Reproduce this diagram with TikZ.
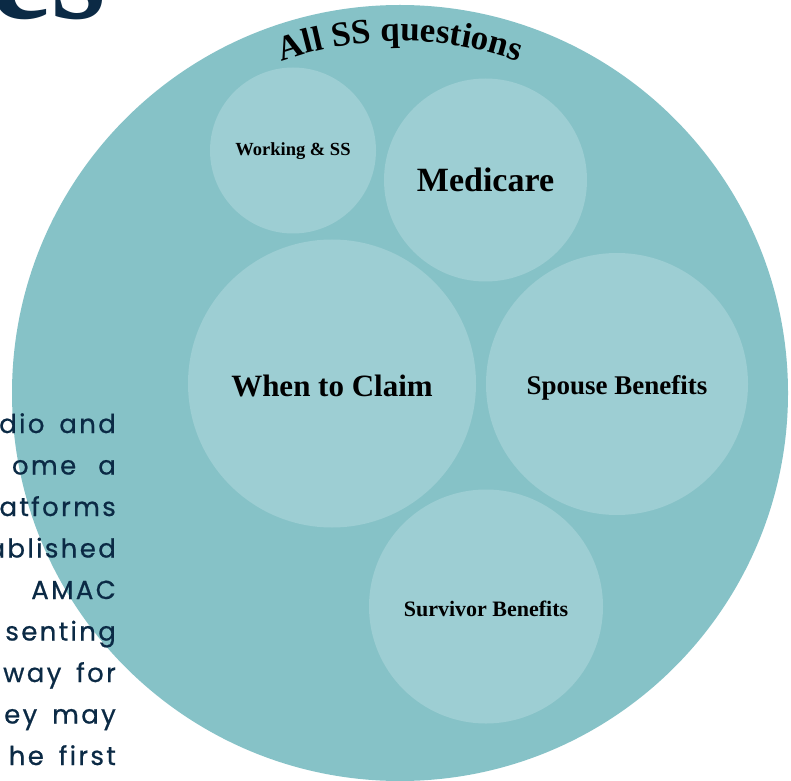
\documentclass[tikz,border=0pt]{standalone}
\usepackage{fontspec}
\setmainfont{Liberation Serif}
\newfontfamily\bodyfont[LetterSpace=9,WordSpace=1.6,FakeBold=0.6]{Poppins}
\usetikzlibrary{decorations.text}
\definecolor{outerteal}{HTML}{86C2C7}
\definecolor{innerteal}{HTML}{9DCED3}
\definecolor{navy}{HTML}{0B2A45}
\tikzset{
  bubble/.style={circle, fill=innerteal, draw=none, inner sep=0pt, outer sep=0pt},
  bigbubble/.style={circle, fill=outerteal, draw=none, inner sep=0pt, outer sep=0pt},
  lbl/.style={anchor=base, inner sep=0pt, text=black, font=\bfseries},
  bodyline/.style={anchor=base east, inner sep=0pt, text=navy, font=\bodyfont\fontsize{26}{26}\selectfont},
}
\begin{document}
\begin{tikzpicture}[x=1pt,y=1pt]
\useasboundingbox (0,0) rectangle (791,780);
\clip (0,0) rectangle (791,780);
\fill[white] (0,0) rectangle (791,780);
% heading fragment
\node[anchor=base east, inner sep=0pt, text=navy, font=\bfseries\fontsize{140}{140}\selectfont] (head) at (106,761) {es};
% main circle
\node[bigbubble, minimum size=776pt] (all) at (400,387) {};
\path[decorate, decoration={text along path, text align=center,
  text={|\bfseries\fontsize{35}{35}\selectfont|All SS questions}}]
  (all.center) ++(130:352) arc[start angle=130, end angle=50, radius=352];
% sub circles
\node[bubble, minimum size=166pt] (work) at (293,629.5) {};
\node[bubble, minimum size=203pt] (medi) at (485.5,600) {};
\node[bubble, minimum size=288pt] (when) at (332,396.5) {};
\node[bubble, minimum size=262pt] (spouse) at (617,396) {};
\node[bubble, minimum size=234pt] (surv) at (486,173.5) {};
% labels
\node[lbl, font=\bfseries\fontsize{18.5}{18.5}\selectfont] (tw) at (293,624) {Working \& SS};
\node[lbl, font=\bfseries\fontsize{34}{34}\selectfont] (tm) at (485.5,588) {Medicare};
\node[lbl, font=\bfseries\fontsize{31}{31}\selectfont] (tc) at (332,384) {When to Claim};
\node[lbl, font=\bfseries\fontsize{27}{27}\selectfont] (ts) at (617,386) {Spouse Benefits};
\node[lbl, font=\bfseries\fontsize{22}{22}\selectfont] (tv) at (486,164) {Survivor Benefits};
% body text fragment
\node[bodyline] (b1) at (116,347) {dio and};
\node[bodyline] (b2) at (116,305.5) {ome\hspace{22pt}a};
\node[bodyline] (b3) at (116,264) {atforms};
\node[bodyline] (b4) at (116,222.5) {ablished};
\node[bodyline] (b5) at (116,181) {AMAC};
\node[bodyline] (b6) at (116,139.5) {senting};
\node[bodyline] (b7) at (116,98) {way for};
\node[bodyline] (b8) at (116,56.5) {ey may};
\node[bodyline] (b9) at (116,15) {he first};
\end{tikzpicture}
\end{document}
